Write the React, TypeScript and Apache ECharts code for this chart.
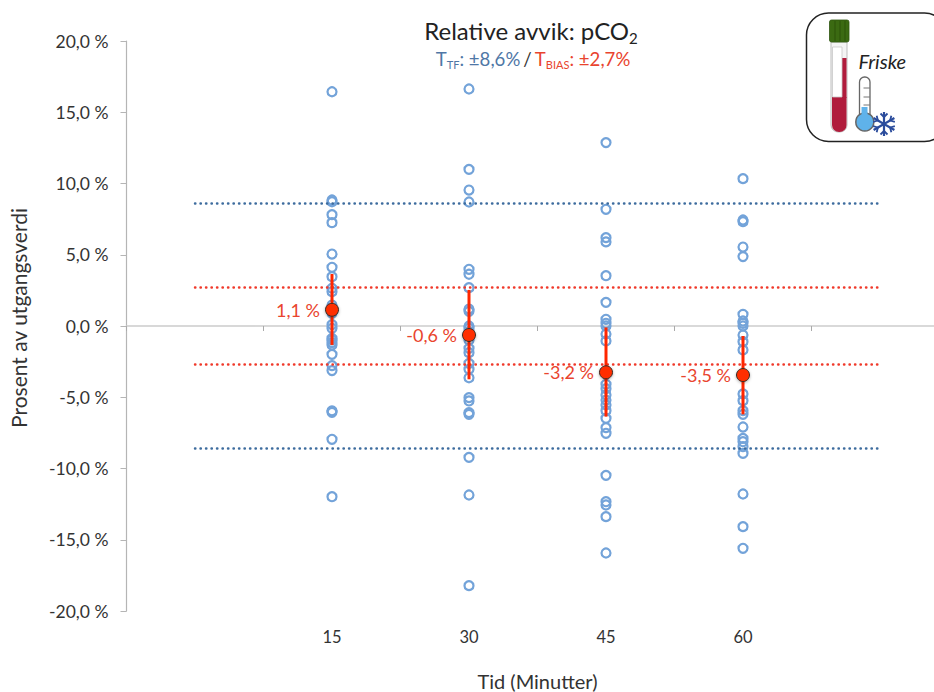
import React, { useEffect, useRef } from "react";
import * as echarts from "echarts";

const categories = ["", "15", "30", "45", "60", ""];
const yTicks = { min: -20, max: 20, interval: 5 };
const values15 = [16.44, 8.84, 8.72, 7.81, 7.25, 5.05, 4.12, 3.46, 2.65, 2.41, 1.47, 1.2, 0.89, 0.1, -0.16, -0.87, -0.98, -1.17, -1.33, -1.99, -2.78, -3.13, -5.96, -6.06, -7.95, -11.98];
const values30 = [16.63, 10.99, 9.54, 8.7, 3.98, 3.63, 2.69, 1.19, 1.03, 0.0, -0.16, -0.4, -1.0, -1.57, -1.87, -2.62, -3.04, -3.63, -5.03, -5.26, -6.08, -6.2, -9.22, -11.86, -18.22];
const values45 = [12.87, 8.19, 6.2, 5.9, 3.53, 1.66, 0.47, 0.19, 0.0, -0.56, -1.05, -4.09, -4.4, -4.84, -5.2, -5.54, -5.94, -6.48, -7.13, -7.53, -10.48, -12.33, -12.56, -13.38, -15.93];
const values60 = [10.34, 7.44, 7.32, 5.54, 4.87, 0.82, 0.35, 0.19, 0.0, -0.63, -1.1, -1.68, -4.77, -5.24, -5.94, -6.2, -7.09, -7.89, -8.12, -8.47, -8.94, -11.79, -14.08, -15.6];
const groups = [values15, values30, values45, values60];
const means = [1.14, -0.63, -3.25, -3.44];
const meanLabels = ["1,1 %", "-0,6 %", "-3,2 %", "-3,5 %"];
const errorLow = [-1.33, -3.74, -6.36, -6.2];
const errorHigh = [3.65, 2.53, -0.1, -0.7];
const tTF = 8.6;
const tBIAS = 2.7;

const FONT = "Lato";
const RED = "#E9442E";
const BLUE = "#4F77A6";

const limitLine = (v: number, color: string) => ({
  type: "line",
  data: categories.map(() => v),
  symbol: "none",
  silent: true,
  z: 3,
  lineStyle: { color, width: 2.4, type: [0.4, 5.1], cap: "round" },
});

const snowArm = (angle: number) => ({
  type: "group",
  rotation: angle,
  z: 14,
  children: [
    { type: "line", z: 14, shape: { x1: 0, y1: 0, x2: 0, y2: -12 }, style: { stroke: "#2B4C9C", lineWidth: 2.2 } },
    { type: "line", z: 14, shape: { x1: 0, y1: -7, x2: -3.5, y2: -10.5 }, style: { stroke: "#2B4C9C", lineWidth: 1.8 } },
    { type: "line", z: 14, shape: { x1: 0, y1: -7, x2: 3.5, y2: -10.5 }, style: { stroke: "#2B4C9C", lineWidth: 1.8 } },
  ],
});

const badge = [
  { type: "rect", shape: { x: 806.5, y: 13, width: 140, height: 128.5, r: 22 }, style: { fill: "#fff", stroke: "#222", lineWidth: 1.5 }, z: 10 },
  { type: "rect", shape: { x: 831, y: 42, width: 16, height: 90, r: [0, 0, 7, 7] }, style: { fill: "#F4F4F4", stroke: "#BDBDBD", lineWidth: 1 }, z: 11 },
  { type: "rect", shape: { x: 832, y: 97, width: 14.5, height: 35, r: [0, 0, 7, 7] }, style: { fill: "#B01C3C" }, z: 12 },
  { type: "rect", shape: { x: 842, y: 58, width: 4.5, height: 40 }, style: { fill: "#B01C3C" }, z: 12 },
  { type: "rect", shape: { x: 832.5, y: 47, width: 9.5, height: 50 }, style: { fill: "#fff", stroke: "#C8C8C8", lineWidth: 0.8 }, z: 12 },
  { type: "rect", shape: { x: 829.5, y: 20, width: 19.5, height: 22, r: 2 }, style: { fill: "#3B6A12", stroke: "#2F5510", lineWidth: 0.8 }, z: 12 },
  ...[835, 840, 845].map((x) => ({ type: "line", shape: { x1: x, y1: 21, x2: x, y2: 41 }, style: { stroke: "#2C5209", lineWidth: 1 }, z: 13 })),
  { type: "rect", shape: { x: 859.5, y: 77, width: 10.5, height: 42, r: [5, 5, 0, 0] }, style: { fill: "#fff", stroke: "#666", lineWidth: 1.3 }, z: 11 },
  { type: "circle", shape: { cx: 864.8, cy: 122, r: 9 }, style: { fill: "#5FB2EA", stroke: "#666", lineWidth: 1.5 }, z: 12 },
  { type: "rect", shape: { x: 861.5, y: 107, width: 6, height: 12 }, style: { fill: "#5FB2EA" }, z: 13 },
  ...[88, 97, 105].map((y) => ({ type: "line", shape: { x1: 863.5, y1: y, x2: 870, y2: y }, style: { stroke: "#777", lineWidth: 1 }, z: 13 })),
  { type: "group", x: 884, y: 124, z: 14, children: [0, 1, 2, 3, 4, 5].map((k) => snowArm((k * Math.PI) / 3)) },
  { type: "text", x: 858.5, y: 51, z: 13, style: { text: "Friske", font: `italic 20px ${FONT}`, fill: "#222" } },
];

export default function App() {
  const ref = useRef<HTMLDivElement>(null);
  useEffect(() => {
    const chart = echarts.init(ref.current!, null, { renderer: "svg" });
    chart.setOption({
      animation: false,
      textStyle: { fontFamily: FONT },
      title: {
        text: "{a|Relative avvik: pCO}{b|2}",
        subtext: "{t0|T}{ts|TF}{t|: ±8,6%} {k|/} {r|T}{rs|BIAS}{r|: ±2,7%}",
        left: 526,
        top: 10,
        textAlign: "center",
        itemGap: 6,
        textStyle: {
          fontWeight: "normal",
          rich: {
            a: { fontFamily: FONT, fontWeight: "normal", fontSize: 24, color: "#222", lineHeight: 30 },
            b: { fontFamily: FONT, fontWeight: "normal", fontSize: 15, color: "#222", verticalAlign: "bottom", lineHeight: 24 },
          },
        },
        subtextStyle: {
          rich: {
            t0: { fontFamily: FONT, fontSize: 18.6, color: BLUE, lineHeight: 22, padding: [0, 0, 0, 4] },
            t: { fontFamily: FONT, fontSize: 18.6, color: BLUE, lineHeight: 22 },
            ts: { fontFamily: FONT, fontSize: 11, color: BLUE, verticalAlign: "bottom", lineHeight: 18 },
            k: { fontFamily: FONT, fontSize: 18.6, color: "#333", lineHeight: 22 },
            r: { fontFamily: FONT, fontSize: 18.6, color: RED, lineHeight: 22 },
            rs: { fontFamily: FONT, fontSize: 11, color: RED, verticalAlign: "bottom", lineHeight: 18 },
          },
        },
      },
      grid: { left: 126.5, top: 41, width: 822, height: 570, outerBoundsMode: "none" },
      xAxis: [
        {
          type: "category",
          data: categories,
          position: "bottom",
          axisLine: { show: false, onZero: false },
          axisTick: { show: false },
          axisLabel: { color: "#333", fontSize: 16.5, margin: 17, fontFamily: FONT },
          name: "Tid (Minutter)",
          nameLocation: "middle",
          nameGap: 60,
          nameTextStyle: { color: "#333", fontSize: 20, fontFamily: FONT },
        },
        {
          type: "category",
          data: categories,
          position: "bottom",
          axisLine: { show: true, onZero: true, onZeroAxisIndex: 0, lineStyle: { color: "#CCCCCC", width: 1.5 } },
          axisTick: { show: true, length: 5, lineStyle: { color: "#AAAAAA", width: 1 } },
          axisLabel: { show: false },
        },
      ],
      yAxis: {
        type: "value",
        min: yTicks.min,
        max: yTicks.max,
        interval: yTicks.interval,
        splitLine: { show: false },
        axisLine: { show: true, lineStyle: { color: "#B5B5B5", width: 1.2 } },
        axisTick: { show: true, length: 6, lineStyle: { color: "#B5B5B5", width: 1 } },
        axisLabel: {
          color: "#333",
          fontSize: 17.5,
          margin: 18,
          fontFamily: FONT,
          formatter: (v: number) => `${v.toFixed(1).replace(".", ",")} %`,
        },
        name: "Prosent av utgangsverdi",
        nameLocation: "middle",
        nameGap: 98,
        nameTextStyle: { color: "#333", fontSize: 21, fontFamily: FONT, padding: [0, 0, 0, 16] },
      },
      series: [
        {
          type: "scatter",
          symbol: "circle",
          symbolSize: 9,
          z: 2,
          itemStyle: { color: "rgba(255,255,255,0)", borderColor: "#73A3D9", borderWidth: 2.2, opacity: 1 },
          data: groups.flatMap((vals, i) => vals.map((v) => [i + 1, v])),
        },
        limitLine(tTF, "#3D6C9E"),
        limitLine(-tTF, "#3D6C9E"),
        limitLine(tBIAS, "#F0392A"),
        limitLine(-tBIAS, "#F0392A"),
        {
          type: "custom",
          z: 4,
          encode: { x: 0, y: [1, 2] },
          data: errorLow.map((low, i) => [i + 1, low, errorHigh[i]]),
          renderItem: (_p: any, api: any) => {
            const a = api.coord([api.value(0), api.value(1)]);
            const b = api.coord([api.value(0), api.value(2)]);
            return {
              type: "line",
              shape: { x1: a[0], y1: a[1], x2: b[0], y2: b[1] },
              style: { stroke: "#FF2600", lineWidth: 3 },
            };
          },
        },
        {
          type: "scatter",
          symbol: "circle",
          symbolSize: 13,
          z: 5,
          itemStyle: {
            color: "#FF2F00",
            borderColor: "#3A2A25",
            borderWidth: 1,
            opacity: 1,
            shadowColor: "rgba(0,0,0,0.3)",
            shadowBlur: 3,
            shadowOffsetY: 1,
          },
          label: {
            show: true,
            position: "left",
            distance: 5,
            fontSize: 18,
            color: RED,
            fontFamily: FONT,
            formatter: (p: any) => meanLabels[p.dataIndex],
          },
          data: means.map((m, i) => [i + 1, m]),
        },
      ],
      graphic: badge,
    });
    return () => chart.dispose();
  }, []);
  return <div ref={ref} style={{ position: "absolute", left: 0, top: 0, width: 934, height: 692 }} />;
}
